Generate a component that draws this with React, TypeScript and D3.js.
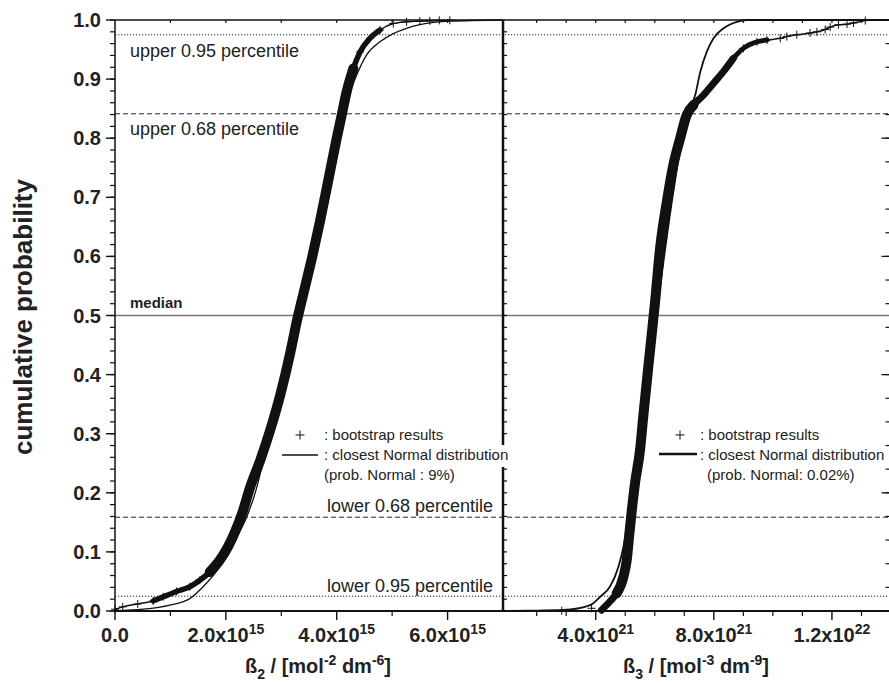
import React from 'react';
import * as d3 from 'd3';

const W = 889;
const H = 683;
const FONT = '"Liberation Sans", Arial, Helvetica, sans-serif';

// ---------- data ----------
const yTicks = [0, 0.1, 0.2, 0.3, 0.4, 0.5, 0.6, 0.7, 0.8, 0.9, 1.0];
const yTickLabels = ['0.0', '0.1', '0.2', '0.3', '0.4', '0.5', '0.6', '0.7', '0.8', '0.9', '1.0'];

const b2Ticks = [0, 2e15, 4e15, 6e15];
const b2TickBase = ['0.0', '2.0x10', '4.0x10', '6.0x10'];
const b2TickSup = ['', '15', '15', '15'];
const b2MinorTicks = [1e15, 3e15, 5e15];

const b3Ticks = [4e21, 8e21, 1.2e22];
const b3TickBase = ['4.0x10', '8.0x10', '1.2x10'];
const b3TickSup = ['21', '21', '22'];
const b3MinorTicks = [2e21, 3e21, 5e21, 6e21, 7e21, 9e21, 1e22, 1.1e22, 1.3e22];

const percentileLevels = [0.975, 0.8413, 0.5, 0.1587, 0.025];
const percentileLabels = ['upper 0.95 percentile', 'upper 0.68 percentile', 'median', 'lower 0.68 percentile', 'lower 0.95 percentile'];

// beta2 bootstrap empirical CDF (value, cumulative probability)
const b2Boot: [number, number][] = [
  [0.0, 0.003], [0.14e15, 0.007], [0.41e15, 0.012], [0.69e15, 0.017], [0.87e15, 0.024],
  [1.11e15, 0.033], [1.35e15, 0.041], [1.53e15, 0.052], [1.71e15, 0.066], [1.89e15, 0.086],
  [2.04e15, 0.109], [2.17e15, 0.135], [2.30e15, 0.167], [2.44e15, 0.210], [2.62e15, 0.255],
  [2.80e15, 0.306], [2.98e15, 0.365], [3.16e15, 0.436], [3.28e15, 0.490], [3.42e15, 0.545],
  [3.56e15, 0.600], [3.70e15, 0.660], [3.84e15, 0.725], [4.00e15, 0.800],
  [4.09e15, 0.839], [4.18e15, 0.879], [4.30e15, 0.918], [4.42e15, 0.946], [4.60e15, 0.969],
  [4.78e15, 0.983], [5.02e15, 0.994], [5.26e15, 0.997], [5.50e15, 0.998], [5.68e15, 0.9986],
  [5.85e15, 0.9993], [6.04e15, 0.9995],
];
// beta2 closest normal distribution
const b2Normal: [number, number][] = [
  [0.0, 0.0005], [0.51e15, 0.003], [0.99e15, 0.010], [1.35e15, 0.021], [1.59e15, 0.041],
  [1.89e15, 0.075], [2.13e15, 0.115], [2.38e15, 0.160], [2.56e15, 0.210], [2.65e15, 0.244],
  [2.80e15, 0.303], [2.98e15, 0.365], [3.16e15, 0.436], [3.28e15, 0.490], [3.42e15, 0.545],
  [3.56e15, 0.600], [3.70e15, 0.660], [3.84e15, 0.725], [4.00e15, 0.795],
  [4.18e15, 0.862], [4.36e15, 0.907], [4.54e15, 0.941], [4.78e15, 0.963],
  [5.02e15, 0.977], [5.26e15, 0.986], [5.50e15, 0.992], [6.04e15, 0.998], [7.0e15, 1.0],
];

// beta3 bootstrap empirical CDF
const b3Boot: [number, number][] = [
  [4.20e21, 0.0017], [4.48e21, 0.016], [4.71e21, 0.030], [4.94e21, 0.058], [5.05e21, 0.086],
  [5.14e21, 0.131], [5.20e21, 0.160], [5.33e21, 0.216], [5.50e21, 0.272], [5.61e21, 0.329],
  [5.78e21, 0.413], [5.90e21, 0.470], [6.01e21, 0.523], [6.18e21, 0.614], [6.41e21, 0.693],
  [6.63e21, 0.755], [6.86e21, 0.800], [7.08e21, 0.839], [7.31e21, 0.856], [7.65e21, 0.873],
  [7.99e21, 0.893], [8.33e21, 0.913], [8.66e21, 0.935], [9.00e21, 0.952], [9.46e21, 0.963],
  [9.80e21, 0.966], [10.25e21, 0.969], [10.47e21, 0.972], [10.81e21, 0.975], [11.26e21, 0.978],
  [11.49e21, 0.980], [11.77e21, 0.984], [11.94e21, 0.988], [12.22e21, 0.992], [12.51e21, 0.993],
  [12.73e21, 0.995], [13.13e21, 0.999],
];
const b3BootLowTail: [number, number][] = [[2.85e21, 0.0005], [3.86e21, 0.0046]];
// beta3 closest normal distribution
const b3Normal: [number, number][] = [
  [0.9e21, 0.0], [1.77e21, 0.0005], [2.90e21, 0.0017], [3.81e21, 0.010], [4.15e21, 0.024],
  [4.48e21, 0.041], [4.77e21, 0.075], [4.94e21, 0.109], [5.11e21, 0.160], [5.5e21, 0.30],
  [6.05e21, 0.5], [6.6e21, 0.70], [7.09e21, 0.84], [7.37e21, 0.873], [7.54e21, 0.912],
  [7.76e21, 0.946], [7.99e21, 0.969], [8.33e21, 0.986], [8.78e21, 0.997], [9.12e21, 1.0],
  [14.0e21, 1.0],
];

// ---------- component ----------
export default function App() {
  const y = d3.scaleLinear().domain([0, 1]).range([611, 20]);
  const xL = d3.scaleLinear().domain([0, 7e15]).range([115, 503]);
  const xR = d3.scaleLinear().domain([0.86e21, 14.0e21]).range([503, 891]);

  const X0 = 115, X1 = 889, XD = 503;
  const Y0 = 611, Y1 = 20;

  const lineL = d3.line<[number, number]>().x(d => xL(d[0])).y(d => y(d[1])).curve(d3.curveMonotoneX);
  const lineR = d3.line<[number, number]>().x(d => xR(d[0])).y(d => y(d[1])).curve(d3.curveMonotoneX);

  const leftMinorY = d3.range(0, 1.0001, 0.02);
  const rightMinorY = d3.range(0, 1.0001, 0.04);
  const rightMajorY = [0, 0.2, 0.4, 0.6, 0.8, 1.0];

  const plus = (cx: number, cy: number, key: string, s = 4) => (
    <path key={key} d={`M${cx - s},${cy}H${cx + s}M${cx},${cy - s}V${cy + s}`} stroke="#111" strokeWidth={1} fill="none" />
  );

  const dashFor = (i: number) => (i === 0 || i === 4 ? '1.2,1.8' : i === 2 ? undefined : '5,3');

  return (
    <svg width={W} height={H} style={{ position: 'absolute', left: 0, top: 0, background: '#fff' }} fontFamily={FONT}>
      <rect x={0} y={0} width={W} height={H} fill="#fff" />

      {/* percentile reference lines */}
      {percentileLevels.map((p, i) => (
        <line key={'pl' + i} x1={X0} x2={X1} y1={y(p)} y2={y(p)}
          stroke={i === 2 ? '#777' : '#222'} strokeWidth={i === 2 ? 1.3 : 1} strokeDasharray={dashFor(i)} />
      ))}

      {/* left panel curves */}
      <path d={lineL(b2Normal) || ''} fill="none" stroke="#111" strokeWidth={1.3} />
      <path d={lineL(b2Boot) || ''} fill="none" stroke="#111" strokeWidth={1.5} strokeLinejoin="round" />
      <path d={lineL(b2Boot.filter(d => d[1] >= 0.015 && d[1] <= 0.985)) || ''} fill="none" stroke="#111" strokeWidth={5.5} strokeLinejoin="round" strokeLinecap="round" />
      <path d={lineL(b2Boot.filter(d => d[1] >= 0.06 && d[1] <= 0.94)) || ''} fill="none" stroke="#111" strokeWidth={10} strokeLinejoin="round" strokeLinecap="round" />
      {b2Boot.map((d, i) => plus(xL(d[0]), y(d[1]), 'b2p' + i))}

      {/* right panel curves */}
      <path d={lineR(b3Normal) || ''} fill="none" stroke="#111" strokeWidth={1.8} />
      <path d={lineR(b3Boot) || ''} fill="none" stroke="#111" strokeWidth={1.5} strokeLinejoin="round" />
      <path d={lineR(b3Boot.filter(d => d[1] <= 0.966)) || ''} fill="none" stroke="#111" strokeWidth={5} strokeLinejoin="round" strokeLinecap="round" />
      <path d={lineR(b3Boot.filter(d => d[1] <= 0.95)) || ''} fill="none" stroke="#111" strokeWidth={7} strokeLinejoin="round" strokeLinecap="round" />
      <path d={lineR(b3Boot.filter(d => d[1] >= 0.02 && d[1] <= 0.86)) || ''} fill="none" stroke="#111" strokeWidth={10} strokeLinejoin="round" strokeLinecap="round" />
      {b3Boot.map((d, i) => plus(xR(d[0]), y(d[1]), 'b3p' + i))}
      {b3BootLowTail.map((d, i) => plus(xR(d[0]), y(d[1]), 'b3t' + i))}

      {/* percentile labels */}
      <text x={130} y={56.5} fontSize={18} fill="#222">{percentileLabels[0]}</text>
      <text x={130} y={135} fontSize={18} fill="#222">{percentileLabels[1]}</text>
      <text x={130} y={308} fontSize={15} fontWeight="bold" fill="#222">{percentileLabels[2]}</text>
      <text x={327} y={512} fontSize={18} fill="#222">{percentileLabels[3]}</text>
      <text x={327} y={592} fontSize={18} fill="#222">{percentileLabels[4]}</text>

      {/* legends */}
      <rect x={323} y={445} width={184} height={22} fill="#fff" />
      {plus(300, 435, 'lgL', 4.5)}
      <line x1={282} x2={318} y1={455} y2={455} stroke="#111" strokeWidth={1.3} />
      <text x={324} y={440} fontSize={15} fill="#222">: bootstrap results</text>
      <text x={324} y={460} fontSize={15} fill="#222">: closest Normal distribution</text>
      <text x={324} y={480} fontSize={15} fill="#222">(prob. Normal : 9%)</text>

      {plus(680, 435, 'lgR', 4.5)}
      <line x1={659} x2={697} y1={454} y2={454} stroke="#111" strokeWidth={2.5} />
      <text x={700} y={440} fontSize={15} fill="#222">: bootstrap results</text>
      <text x={700} y={460} fontSize={15} fill="#222">: closest Normal distribution</text>
      <text x={707} y={480} fontSize={15} fill="#222">(prob. Normal: 0.02%)</text>

      {/* frame */}
      <line x1={X0} x2={X1} y1={Y1} y2={Y1} stroke="#111" strokeWidth={1.5} />
      <line x1={X0} x2={X1} y1={Y0} y2={Y0} stroke="#111" strokeWidth={2} />
      <line x1={X0} x2={X0} y1={Y1} y2={Y0} stroke="#111" strokeWidth={1.5} />
      <line x1={XD} x2={XD} y1={Y1} y2={445} stroke="#111" strokeWidth={2.5} />
      <line x1={XD} x2={XD} y1={467} y2={Y0} stroke="#111" strokeWidth={2.5} />

      {/* left axis ticks */}
      {leftMinorY.map((p, i) => (
        <line key={'lm' + i} x1={X0 - 5} x2={X0} y1={y(p)} y2={y(p)} stroke="#111" strokeWidth={1.2} />
      ))}
      {yTicks.map((p, i) => (
        <line key={'lM' + i} x1={X0 - 9} x2={X0} y1={y(p)} y2={y(p)} stroke="#111" strokeWidth={1.4} />
      ))}
      {yTicks.map((p, i) => (
        <text key={'lt' + i} x={101} y={y(p) + 7} fontSize={20} fontWeight="bold" textAnchor="end" fill="#222">{yTickLabels[i]}</text>
      ))}

      {/* divider ticks (inward) */}
      {leftMinorY.filter(p => p > 0 && p < 1).filter(p => y(p) < 445 || y(p) > 467).map((p, i) => (
        <line key={'dm' + i} x1={XD} x2={XD + 4} y1={y(p)} y2={y(p)} stroke="#111" strokeWidth={1.2} />
      ))}

      {/* right axis ticks (inward) */}
      {rightMinorY.map((p, i) => (
        <line key={'rm' + i} x1={X1 - 3.5} x2={X1} y1={y(p)} y2={y(p)} stroke="#111" strokeWidth={1.2} />
      ))}
      {rightMajorY.map((p, i) => (
        <line key={'rM' + i} x1={X1 - 7.5} x2={X1} y1={y(p)} y2={y(p)} stroke="#111" strokeWidth={1.3} />
      ))}

      {/* bottom axis ticks */}
      {b2Ticks.map((v, i) => (
        <line key={'bM' + i} x1={xL(v)} x2={xL(v)} y1={Y0} y2={Y0 + 9} stroke="#111" strokeWidth={1.4} />
      ))}
      {b2MinorTicks.map((v, i) => (
        <line key={'bm' + i} x1={xL(v)} x2={xL(v)} y1={Y0} y2={Y0 + 5} stroke="#111" strokeWidth={1.2} />
      ))}
      {b3Ticks.map((v, i) => (
        <line key={'cM' + i} x1={xR(v)} x2={xR(v)} y1={Y0} y2={Y0 + 9} stroke="#111" strokeWidth={1.4} />
      ))}
      {b3MinorTicks.map((v, i) => (
        <line key={'cm' + i} x1={xR(v)} x2={xR(v)} y1={Y0} y2={Y0 + 5} stroke="#111" strokeWidth={1.2} />
      ))}

      {/* top axis ticks (inward) */}
      {[...b2Ticks.slice(1), ...b2MinorTicks].map((v, i) => (
        <line key={'tL' + i} x1={xL(v)} x2={xL(v)} y1={Y1} y2={Y1 + 3} stroke="#111" strokeWidth={1.2} />
      ))}
      {[...b3Ticks, ...b3MinorTicks].map((v, i) => (
        <line key={'tR' + i} x1={xR(v)} x2={xR(v)} y1={Y1} y2={Y1 + 3} stroke="#111" strokeWidth={1.2} />
      ))}

      {/* bottom tick labels */}
      {b2Ticks.map((v, i) => (
        <text key={'bl' + i} x={xL(v)} y={642} fontSize={20} fontWeight="bold" textAnchor="middle" fill="#222">
          {b2TickBase[i]}
          {b2TickSup[i] && <tspan dy={-8} fontSize={14}>{b2TickSup[i]}</tspan>}
        </text>
      ))}
      {b3Ticks.map((v, i) => (
        <text key={'cl' + i} x={xR(v)} y={642} fontSize={20} fontWeight="bold" textAnchor="middle" fill="#222">
          {b3TickBase[i]}
          <tspan dy={-8} fontSize={14}>{b3TickSup[i]}</tspan>
        </text>
      ))}

      {/* axis titles */}
      <text x={318} y={673} fontSize={20} fontWeight="bold" textAnchor="middle" fill="#222">
        ß<tspan dy={6} fontSize={14}>2</tspan>
        <tspan dy={-6}> / [mol</tspan>
        <tspan dy={-8} fontSize={14}>-2</tspan>
        <tspan dy={8}> dm</tspan>
        <tspan dy={-8} fontSize={14}>-6</tspan>
        <tspan dy={8}>]</tspan>
      </text>
      <text x={696} y={673} fontSize={20} fontWeight="bold" textAnchor="middle" fill="#222">
        ß<tspan dy={6} fontSize={14}>3</tspan>
        <tspan dy={-6}> / [mol</tspan>
        <tspan dy={-8} fontSize={14}>-3</tspan>
        <tspan dy={8}> dm</tspan>
        <tspan dy={-8} fontSize={14}>-9</tspan>
        <tspan dy={8}>]</tspan>
      </text>
      <text transform="translate(32,317) rotate(-90)" fontSize={26} fontWeight="bold" textAnchor="middle" fill="#222">
        cumulative probability
      </text>
    </svg>
  );
}
